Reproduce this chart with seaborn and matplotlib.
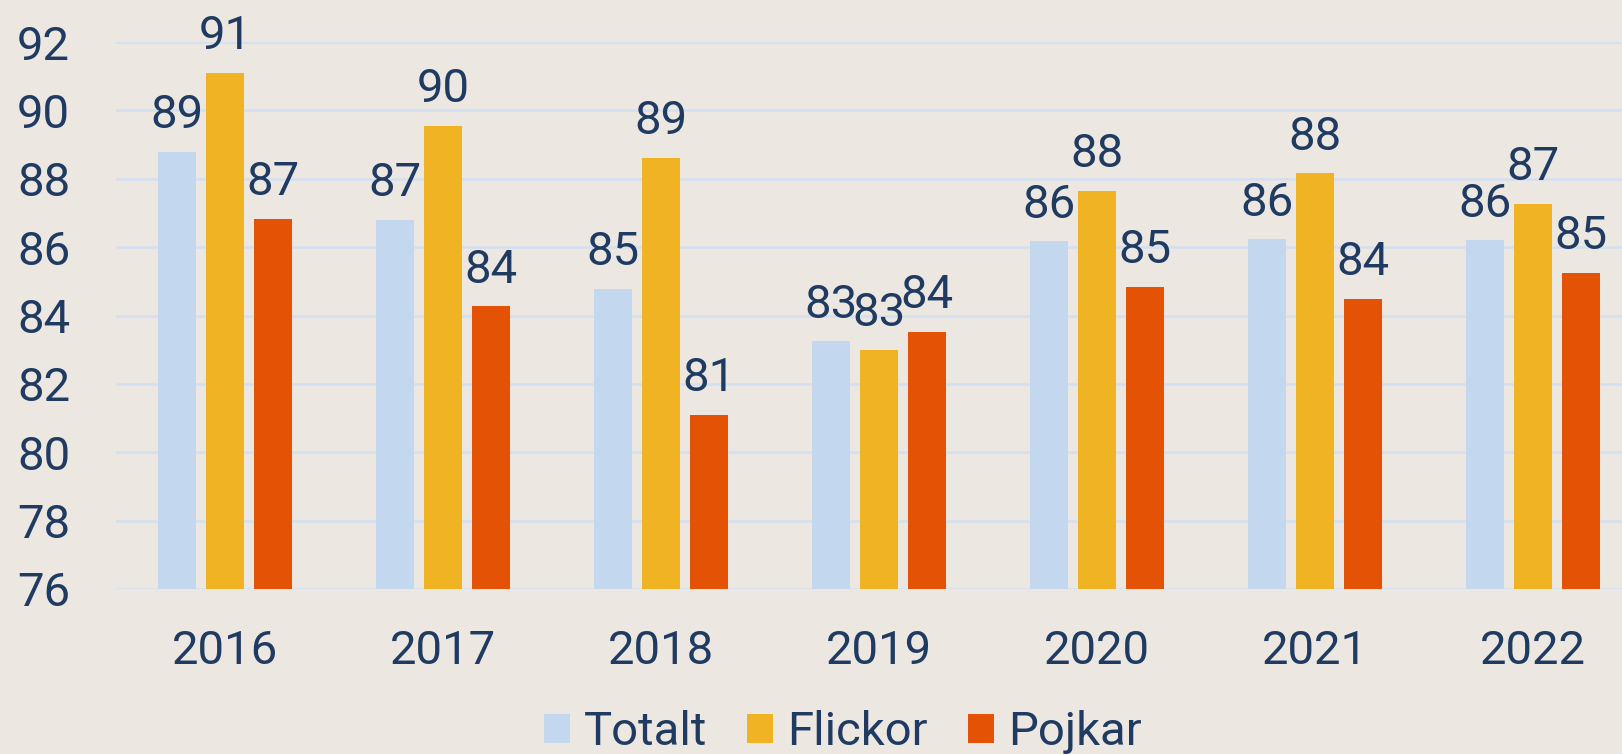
import matplotlib
matplotlib.use("Agg")
import matplotlib.pyplot as plt
import seaborn as sns
import pandas as pd
from matplotlib.patches import Patch

years = ["2016", "2017", "2018", "2019", "2020", "2021", "2022"]
totalt = [88.79, 86.80, 84.78, 83.24, 86.17, 86.23, 86.20]
flickor = [91.09, 89.55, 88.62, 83.00, 87.65, 88.16, 87.26]
pojkar = [86.82, 84.27, 81.10, 83.52, 84.84, 84.48, 85.24]
series = ["Totalt", "Flickor", "Pojkar"]
colors = ["#C3D7EE", "#EFB324", "#E35205"]
yticks = [76, 78, 80, 82, 84, 86, 88, 90, 92]

bg = "#ECE7E1"
txt = "#203B62"
grid = "#D3E0F2"
FS = 34
FW = "normal"

df = pd.DataFrame({
    "year": years * 3,
    "value": totalt + flickor + pojkar,
    "series": [s for s in series for _ in years],
})

sns.set_theme(style="white")
plt.rcParams["font.family"] = ["Roboto", "DejaVu Sans"]
plt.rcParams["font.weight"] = FW

fig = plt.figure(figsize=(16.22, 7.54), dpi=100, facecolor=bg)
ax = fig.add_axes([116 / 1622, 1 - 589 / 754, 1 - 116 / 1622, (589 - 42) / 754])
ax.set_facecolor(bg)

sns.barplot(data=df, x="year", y="value", hue="series", order=years,
            hue_order=series, palette=colors, width=0.66, gap=0.21,
            ax=ax, legend=False, saturation=1, zorder=3, linewidth=0)

ax.set_ylim(76, 92)
ax.set_xlim(-0.5, (1622 - 116) / 218 - 0.5)
ax.set_yticks(yticks)
ax.set_yticklabels([str(t) for t in yticks], fontsize=FS, color=txt, fontweight=FW)
ax.tick_params(axis="y", length=0, pad=33)
ax.tick_params(axis="x", length=0, pad=29, labelsize=FS, labelcolor=txt)
for lab in ax.get_xticklabels():
    lab.set_fontweight(FW)
ax.set_xlabel("")
ax.set_ylabel("")
for sp in ax.spines.values():
    sp.set_visible(False)
ax.grid(False)
for t in yticks:
    ax.axhline(t, color=grid, linewidth=1.8, zorder=1)

for cont in ax.containers:
    for bar in cont:
        h = bar.get_height()
        ax.annotate(f"{h:.0f}", (bar.get_x() + bar.get_width() / 2, h),
                    xytext=(0, 17), textcoords="offset points",
                    ha="center", va="baseline", fontsize=FS, color=txt,
                    fontweight=FW, annotation_clip=False, zorder=4)

handles = [Patch(facecolor=c, edgecolor="none") for c in colors]
fig.legend(handles, series, loc="center", bbox_to_anchor=(843 / 1622, 1 - 732 / 754),
           ncol=3, frameon=False, labelcolor=txt,
           handlelength=0.55, handleheight=0.55, handletextpad=0.3, columnspacing=0.85,
           prop={"size": FS, "weight": FW}, borderpad=0.1)

fig.savefig("out.png", dpi=100, facecolor=bg)
